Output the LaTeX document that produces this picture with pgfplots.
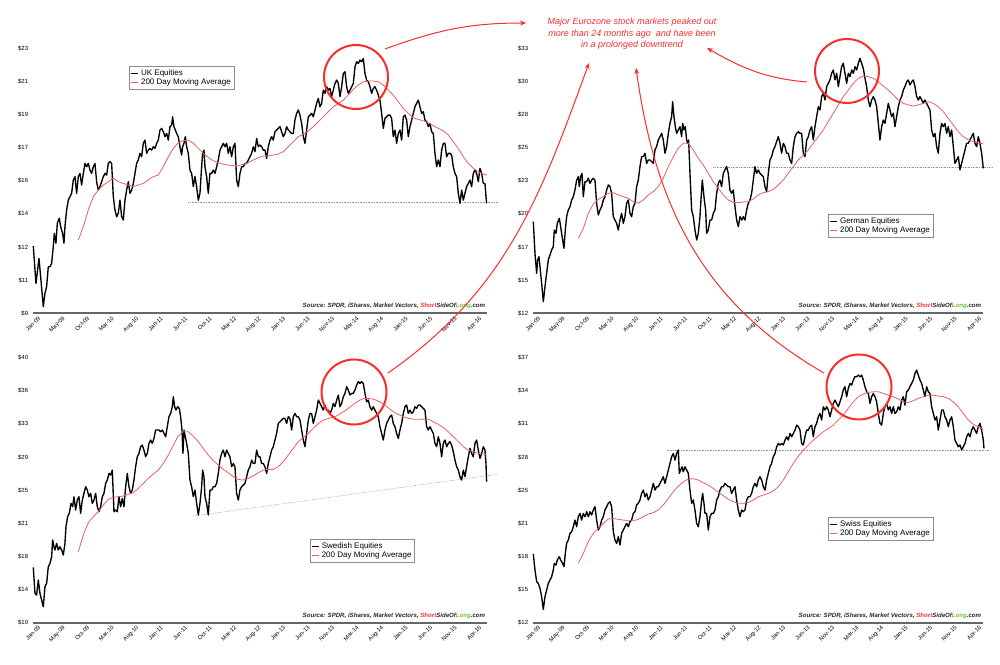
\documentclass[border=0pt]{standalone}
\usepackage{fontspec}
\setmainfont{Liberation Sans}
\usepackage{pgfplots}
\pgfplotsset{compat=1.18}
\usetikzlibrary{arrows.meta}
\definecolor{maRed}{RGB}{236,96,96}
\definecolor{annRed}{RGB}{250,45,45}
\definecolor{srcGreen}{RGB}{110,190,60}
\newcommand{\src}{\fontsize{6.1}{7}\selectfont\bfseries\itshape\color{black!85}Source: SPDR, iShares, Market Vectors, \textcolor{annRed}{Short}SideOf\textcolor{srcGreen}{Long}.com}
\pgfplotsset{
  panel/.style={
    scale only axis, height=265pt, xmin=0,
    axis line style={draw=none}, major tick length=0pt,
    xtick={16,163,310,457,604,751,898,1045,1192,1339,1486,1633,1780,1927,2074,2221,2368,2515,2662},
    xticklabels={Jan-09,May-09,Oct-09,Mar-10,Aug-10,Jan-11,Jun-11,Oct-11,Mar-12,Aug-12,Jan-13,Jun-13,Nov-13,Mar-14,Aug-14,Jan-15,Jun-15,Nov-15,Apr-16},
    xticklabel style={rotate=45,anchor=north east,font=\fontsize{5.8}{6.5}\selectfont,inner sep=0.5pt,yshift=-2.5pt},
    yticklabel style={font=\fontsize{6}{7}\selectfont,inner sep=1pt,xshift=-4pt},
    clip=false,
    legend cell align=left,
    legend style={draw=black!45, line width=0.7pt, fill=white, font=\fontsize{8}{9}\selectfont, inner sep=1.3pt, anchor=north west, row sep=-2pt},
    legend image code/.code={\draw[#1] (0pt,0pt) -- (7pt,0pt);},
  },
  price/.style={black, line width=1.35pt, line join=round},
  ma/.style={maRed, line width=0.8pt},
  dline/.style={black!40, densely dotted, line width=0.6pt, forget plot},
}
\begin{document}
\begin{tikzpicture}
\useasboundingbox (0,0) rectangle (1000pt,664pt);

% UK
\begin{axis}[panel, at={(33.3pt,350.7pt)}, anchor=south west, width=454pt, xmax=2724,
  ymin=9, ymax=23, ytick={9,10.75,12.5,14.25,16,17.75,19.5,21.25,23},
  yticklabels={\$9,\$11,\$12,\$14,\$16,\$17,\$19,\$21,\$23},
  legend style={at={(0.211,0.933)}}]
\addplot[dline] coordinates {(930,14.86)(2790,14.86)};
\addplot[price] coordinates {(0,12.56)(16,10.58)(34,11.90)(44,10.94)(60,9.35)(70,10.06)(80,10.41)(90,11.46)(100,11.46)(110,11.64)(120,12.52)(126,13.22)(136,12.70)(144,13.75)(156,14.02)(164,13.58)(176,13.22)(184,12.70)(190,13.58)(200,14.46)(210,14.98)(220,15.16)(230,15.34)(240,16.04)(250,16.22)(260,15.34)(270,16.22)(280,16.39)(290,15.78)(300,16.39)(310,16.92)(320,16.74)(330,16.92)(340,16.57)(350,16.39)(360,16.74)(370,16.92)(380,15.95)(390,15.51)(400,15.69)(410,15.95)(420,16.22)(430,16.39)(440,16.30)(450,16.92)(460,17.01)(470,16.92)(480,15.16)(490,14.46)(500,14.10)(510,14.28)(520,14.98)(530,14.10)(540,13.93)(550,14.98)(560,15.51)(570,15.95)(580,15.34)(590,15.51)(600,15.86)(610,16.39)(620,16.92)(630,17.10)(640,17.45)(650,17.27)(660,17.98)(670,18.15)(680,17.45)(690,17.62)(700,17.71)(710,17.62)(720,17.80)(730,17.71)(740,17.98)(750,18.15)(760,18.68)(770,18.77)(780,18.59)(790,18.33)(800,18.50)(810,18.15)(820,18.86)(830,18.94)(836,19.38)(844,18.86)(852,18.68)(860,18.50)(870,18.33)(880,17.80)(890,17.36)(896,17.80)(904,17.98)(912,18.33)(920,17.80)(930,17.45)(940,16.57)(950,16.39)(960,15.69)(970,16.22)(980,15.69)(990,14.98)(1000,15.34)(1010,16.74)(1016,17.45)(1024,17.62)(1030,16.74)(1040,16.22)(1050,15.34)(1060,16.39)(1070,16.39)(1080,16.57)(1090,16.39)(1100,16.74)(1110,17.10)(1120,17.62)(1130,17.80)(1140,17.98)(1150,17.80)(1160,17.98)(1170,17.45)(1180,17.80)(1190,17.27)(1200,17.80)(1210,17.98)(1220,16.04)(1230,15.69)(1240,16.39)(1250,16.74)(1260,16.74)(1270,16.92)(1280,16.92)(1290,17.10)(1300,17.27)(1310,17.45)(1320,17.80)(1330,17.54)(1340,18.24)(1350,17.80)(1360,17.89)(1370,17.80)(1380,17.62)(1390,17.62)(1400,17.18)(1410,17.80)(1420,18.15)(1430,18.33)(1440,18.15)(1450,18.59)(1460,18.68)(1470,18.77)(1480,18.86)(1490,18.59)(1500,18.33)(1510,18.50)(1520,18.86)(1530,18.68)(1540,18.59)(1550,18.50)(1560,18.50)(1570,19.21)(1580,19.56)(1590,19.74)(1600,19.47)(1610,19.03)(1620,18.33)(1630,17.98)(1640,18.68)(1650,19.38)(1660,19.47)(1670,19.56)(1680,19.38)(1690,19.74)(1700,20.09)(1710,20.35)(1720,19.91)(1730,20.09)(1740,20.79)(1750,20.62)(1760,20.97)(1770,20.79)(1780,20.88)(1790,20.44)(1800,20.79)(1810,21.14)(1820,21.32)(1830,21.14)(1840,20.44)(1850,20.97)(1860,21.67)(1870,21.76)(1880,20.97)(1890,20.62)(1900,20.79)(1910,20.97)(1920,21.14)(1930,22.02)(1940,22.29)(1950,22.20)(1960,22.38)(1970,22.29)(1980,22.46)(1990,21.67)(2000,21.32)(2010,21.23)(2020,20.97)(2030,20.62)(2040,20.88)(2050,20.97)(2060,20.79)(2070,20.53)(2080,20.26)(2090,19.56)(2100,18.77)(2110,19.30)(2120,19.38)(2130,19.47)(2140,19.47)(2150,19.30)(2160,18.33)(2170,18.68)(2180,17.98)(2190,18.50)(2200,18.68)(2210,18.15)(2220,19.38)(2230,19.47)(2240,19.21)(2250,18.33)(2260,18.86)(2270,19.21)(2280,19.56)(2290,19.91)(2300,20.09)(2310,20.26)(2320,19.91)(2330,19.56)(2340,19.65)(2350,19.21)(2360,19.12)(2370,18.86)(2380,19.03)(2390,18.59)(2400,18.50)(2410,17.45)(2420,16.74)(2430,17.10)(2440,16.74)(2450,17.62)(2460,17.98)(2470,17.98)(2480,17.27)(2490,17.45)(2500,17.45)(2510,17.36)(2520,16.74)(2530,16.39)(2540,16.22)(2550,15.34)(2560,14.81)(2570,15.51)(2580,14.98)(2590,15.34)(2600,15.69)(2610,15.86)(2620,16.04)(2630,15.69)(2640,16.39)(2650,16.57)(2660,16.39)(2670,15.95)(2680,16.66)(2690,16.39)(2700,15.86)(2710,15.86)(2716,15.16)(2720,14.81)};
\addlegendentry{UK Equities}
\addplot[ma] coordinates {(270,12.87)(300,13.58)(330,14.46)(360,15.16)(390,15.51)(420,15.78)(450,15.95)(480,16.13)(510,15.95)(540,15.86)(570,15.78)(600,15.69)(630,15.78)(660,15.86)(690,16.04)(720,16.22)(750,16.30)(780,16.74)(810,17.27)(840,17.71)(870,18.01)(900,18.12)(930,18.15)(960,17.98)(990,17.71)(1020,17.45)(1050,17.24)(1080,17.06)(1110,16.96)(1140,16.88)(1170,16.83)(1200,16.80)(1230,16.80)(1260,16.87)(1290,16.96)(1320,17.10)(1350,17.22)(1380,17.31)(1410,17.32)(1440,17.36)(1470,17.41)(1500,17.54)(1530,17.80)(1560,18.06)(1590,18.33)(1620,18.47)(1650,18.63)(1680,18.86)(1710,19.12)(1740,19.38)(1770,19.65)(1800,19.91)(1830,20.09)(1860,20.26)(1890,20.53)(1920,20.83)(1950,21.06)(1980,21.23)(2010,21.27)(2040,21.27)(2070,21.23)(2100,21.06)(2130,20.79)(2160,20.53)(2190,20.18)(2220,19.82)(2250,19.56)(2280,19.33)(2310,19.24)(2340,19.17)(2370,19.07)(2400,18.91)(2430,18.77)(2460,18.64)(2490,18.42)(2520,18.06)(2550,17.71)(2580,17.27)(2610,16.92)(2640,16.66)(2670,16.48)(2700,16.36)(2720,16.30)};
\addlegendentry{200 Day Moving Average}
\draw[black!60, line width=2pt] (rel axis cs:0,0) -- (rel axis cs:1,0);
\node[anchor=south east, inner sep=0pt, xshift=-2pt, yshift=4pt] at (rel axis cs:1,0) {\src};
\end{axis}

% German
\begin{axis}[panel, at={(533.3pt,350.7pt)}, anchor=south west, width=450pt, xmax=2700,
  ymin=12, ymax=33, ytick={12,14.625,17.25,19.875,22.5,25.125,27.75,30.375,33},
  yticklabels={\$12,\$15,\$17,\$20,\$23,\$25,\$28,\$30,\$33},
  legend style={at={(0.655,0.375)}}]
\addplot[dline] coordinates {(1080,23.54)(2756,23.54)};
\addplot[price] coordinates {(0,19.26)(10,16.75)(20,15.17)(26,16.23)(34,16.49)(40,15.70)(50,14.38)(60,12.92)(70,14.11)(80,15.17)(90,16.23)(100,16.62)(110,17.02)(120,17.28)(126,18.60)(136,18.34)(144,19.13)(156,19.53)(164,18.87)(176,17.81)(184,17.15)(192,18.60)(200,19.66)(210,20.19)(220,20.45)(230,20.98)(240,21.24)(250,21.77)(260,22.56)(270,22.83)(276,22.04)(284,22.83)(292,23.09)(300,21.24)(310,22.43)(320,22.43)(330,22.70)(340,22.30)(350,22.56)(360,22.70)(370,22.56)(380,20.72)(390,19.79)(400,20.19)(410,20.45)(420,20.98)(430,21.24)(440,21.77)(450,22.17)(460,22.04)(470,21.51)(480,19.66)(490,19.39)(500,19.13)(510,18.60)(520,19.39)(530,19.92)(540,19.13)(550,19.66)(560,20.72)(570,20.98)(580,19.92)(590,19.66)(600,20.45)(610,20.72)(620,22.04)(630,22.56)(640,23.62)(650,24.41)(660,24.41)(670,24.68)(680,23.88)(690,24.15)(700,24.15)(710,24.02)(720,23.88)(730,24.94)(740,25.21)(750,25.73)(760,26.00)(770,26.26)(780,25.73)(790,24.68)(800,25.21)(810,26.26)(820,27.05)(830,27.58)(836,28.77)(844,27.58)(852,26.79)(860,26.26)(870,26.53)(880,26.79)(890,26.00)(896,27.05)(904,26.53)(912,26.79)(920,25.73)(926,25.47)(932,25.73)(940,23.09)(950,20.19)(960,19.66)(970,18.60)(980,17.81)(990,18.34)(1000,19.66)(1006,20.98)(1014,22.56)(1020,21.77)(1026,20.98)(1034,20.19)(1040,18.34)(1050,18.60)(1060,19.39)(1070,19.39)(1080,19.92)(1090,20.19)(1100,21.51)(1110,22.30)(1120,22.56)(1130,22.04)(1140,23.09)(1150,23.36)(1160,23.62)(1170,23.09)(1180,21.77)(1190,21.51)(1200,21.77)(1210,20.45)(1220,19.39)(1230,18.87)(1240,19.66)(1250,19.39)(1260,19.66)(1270,19.39)(1280,20.19)(1290,20.72)(1300,20.98)(1310,21.51)(1320,22.56)(1330,23.62)(1340,23.09)(1350,23.36)(1360,23.09)(1370,22.96)(1380,22.83)(1390,22.04)(1400,21.64)(1410,23.09)(1420,24.15)(1430,24.41)(1440,24.94)(1450,25.21)(1460,25.60)(1470,26.00)(1480,25.47)(1490,24.68)(1500,25.47)(1510,25.21)(1520,24.68)(1530,24.68)(1540,24.15)(1550,23.88)(1560,25.21)(1570,26.00)(1580,26.26)(1590,26.39)(1600,26.26)(1610,26.26)(1620,24.68)(1630,24.41)(1640,25.73)(1650,26.00)(1660,26.53)(1670,26.79)(1680,25.73)(1690,26.79)(1700,27.58)(1710,28.37)(1720,28.11)(1730,29.17)(1740,29.43)(1750,28.90)(1760,29.96)(1770,30.22)(1780,30.49)(1790,31.02)(1800,31.28)(1810,30.49)(1820,31.02)(1830,29.96)(1840,30.75)(1850,31.54)(1860,31.81)(1870,31.02)(1880,30.22)(1890,31.02)(1900,30.75)(1910,31.28)(1920,31.02)(1930,31.54)(1940,31.28)(1950,31.81)(1960,32.20)(1970,31.81)(1980,31.41)(1990,30.62)(2000,29.96)(2010,28.90)(2020,28.37)(2030,28.90)(2040,29.17)(2050,28.90)(2060,28.37)(2070,27.05)(2080,25.73)(2090,26.79)(2100,27.32)(2110,27.05)(2120,27.85)(2130,28.64)(2140,28.11)(2150,27.58)(2160,27.85)(2170,26.79)(2180,27.58)(2190,28.37)(2200,28.90)(2210,29.17)(2220,29.69)(2230,29.96)(2240,30.35)(2250,30.49)(2260,30.09)(2270,30.35)(2280,30.49)(2290,29.96)(2300,29.17)(2310,28.90)(2320,29.17)(2330,28.90)(2340,28.64)(2350,28.90)(2360,28.64)(2370,28.37)(2380,28.11)(2390,26.53)(2400,26.00)(2410,26.26)(2420,25.21)(2430,24.68)(2440,26.26)(2450,27.05)(2460,26.79)(2470,27.05)(2480,26.26)(2490,26.79)(2500,26.00)(2510,26.53)(2520,25.21)(2530,23.88)(2540,24.15)(2550,24.41)(2560,23.36)(2570,23.88)(2580,24.41)(2590,24.94)(2600,25.47)(2610,25.47)(2620,25.73)(2630,26.00)(2640,26.26)(2650,25.47)(2660,25.21)(2670,26.00)(2680,25.47)(2690,24.68)(2700,23.49)};
\addlegendentry{German Equities}
\addplot[ma] coordinates {(270,17.94)(300,18.73)(330,19.92)(360,20.66)(390,21.03)(420,21.24)(450,21.51)(480,21.56)(510,21.38)(540,21.24)(570,21.11)(600,20.85)(630,20.72)(660,20.98)(690,21.38)(720,21.64)(750,22.04)(780,22.70)(810,23.62)(840,24.41)(870,25.07)(900,25.47)(930,25.47)(960,24.94)(990,24.28)(1020,23.75)(1050,23.09)(1080,22.43)(1110,21.90)(1140,21.38)(1170,20.98)(1200,20.79)(1230,20.77)(1260,20.82)(1290,20.85)(1320,21.06)(1350,21.38)(1380,21.56)(1410,21.64)(1440,21.82)(1470,22.17)(1500,22.56)(1530,23.09)(1560,23.62)(1590,24.15)(1620,24.54)(1650,24.94)(1680,25.47)(1710,26.00)(1740,26.53)(1770,27.19)(1800,27.85)(1830,28.51)(1860,29.17)(1890,29.69)(1920,30.22)(1950,30.62)(1980,30.80)(2010,30.75)(2040,30.62)(2070,30.35)(2100,30.01)(2130,29.69)(2160,29.30)(2190,28.90)(2220,28.64)(2250,28.51)(2280,28.43)(2310,28.51)(2340,28.64)(2370,28.77)(2400,28.64)(2430,28.37)(2460,27.98)(2490,27.45)(2520,26.92)(2550,26.39)(2580,26.00)(2610,25.73)(2640,25.60)(2670,25.52)(2700,25.42)};
\addlegendentry{200 Day Moving Average}
\draw[black!60, line width=2pt] (rel axis cs:0,0) -- (rel axis cs:1,0);
\node[anchor=south east, inner sep=0pt, xshift=-2pt, yshift=4pt] at (rel axis cs:1,0) {\src};
\end{axis}

% Swedish
\begin{axis}[panel, at={(33.3pt,41.3pt)}, anchor=south west, width=454pt, xmax=2724,
  ymin=10, ymax=40, ytick={10,13.75,17.5,21.25,25,28.75,32.5,36.25,40},
  yticklabels={\$10,\$14,\$18,\$21,\$25,\$29,\$33,\$36,\$40},
  legend style={at={(0.609,0.316)}}]
\addplot[dline] coordinates {(960,22.07)(2780,26.79)};
\addplot[price] coordinates {(0,16.26)(10,13.32)(20,13.13)(30,14.83)(40,13.32)(50,12.57)(60,11.81)(70,14.07)(80,14.45)(90,16.34)(100,16.72)(110,17.47)(116,19.36)(124,18.60)(130,18.23)(140,18.98)(150,18.23)(160,18.60)(170,18.23)(180,17.66)(190,18.98)(196,20.87)(206,22.00)(216,22.38)(226,23.51)(236,23.13)(244,24.26)(254,22.75)(264,23.88)(274,24.26)(284,22.38)(294,23.88)(304,24.64)(314,25.39)(324,25.02)(334,24.26)(344,24.64)(354,23.51)(364,23.88)(374,24.64)(384,23.13)(394,22.56)(404,23.13)(414,24.26)(424,24.64)(434,25.77)(444,26.15)(454,26.90)(464,26.71)(474,27.28)(484,22.56)(494,22.75)(504,22.56)(514,24.26)(524,23.13)(534,24.07)(544,23.13)(554,25.39)(564,26.90)(574,25.39)(584,24.64)(594,25.02)(604,26.15)(614,27.66)(624,28.79)(634,29.17)(644,29.92)(654,30.11)(664,29.54)(674,28.79)(684,29.17)(694,30.30)(704,30.68)(714,30.30)(724,30.86)(734,31.81)(744,31.81)(754,31.81)(764,31.62)(774,31.81)(784,31.43)(794,31.05)(804,32.19)(814,33.32)(824,33.69)(834,34.45)(840,35.58)(848,34.45)(856,34.07)(866,34.45)(876,34.26)(884,33.32)(892,31.81)(898,29.17)(904,31.81)(912,31.05)(920,30.30)(930,29.17)(940,26.15)(950,25.39)(960,24.26)(970,25.02)(980,23.51)(990,22.19)(1000,23.51)(1010,25.39)(1016,27.28)(1024,26.53)(1030,24.26)(1040,23.51)(1050,22.19)(1060,25.02)(1070,25.02)(1080,25.39)(1090,25.39)(1100,25.77)(1110,26.90)(1120,28.41)(1130,29.17)(1140,29.54)(1150,28.79)(1160,29.54)(1170,29.17)(1180,28.79)(1190,27.66)(1200,28.03)(1210,27.66)(1220,24.64)(1230,23.88)(1240,25.02)(1250,25.39)(1260,25.58)(1270,25.77)(1280,26.53)(1290,27.28)(1300,27.66)(1310,28.41)(1320,28.03)(1330,28.03)(1340,29.54)(1350,28.79)(1360,28.79)(1370,28.03)(1380,28.03)(1390,27.66)(1400,26.90)(1410,28.03)(1420,28.79)(1430,29.54)(1440,29.92)(1450,30.68)(1460,31.43)(1470,32.56)(1480,32.75)(1490,32.94)(1500,33.13)(1510,33.13)(1520,32.56)(1530,33.32)(1540,33.13)(1550,31.81)(1560,33.32)(1570,33.69)(1580,33.32)(1590,33.32)(1600,32.94)(1610,31.81)(1620,30.68)(1630,29.92)(1640,31.43)(1650,32.94)(1660,33.69)(1670,33.69)(1680,32.56)(1690,33.32)(1700,34.07)(1710,35.20)(1720,34.83)(1730,34.45)(1740,34.07)(1750,34.64)(1760,34.07)(1770,34.07)(1780,33.69)(1790,34.07)(1800,34.83)(1810,34.45)(1820,35.20)(1830,35.77)(1840,34.45)(1850,34.83)(1860,35.58)(1870,35.96)(1880,36.71)(1890,36.34)(1900,35.77)(1910,35.96)(1920,35.96)(1930,36.34)(1940,36.90)(1950,37.28)(1960,37.09)(1970,37.28)(1980,37.09)(1990,35.96)(2000,35.01)(2010,35.20)(2020,34.45)(2030,34.07)(2040,34.45)(2050,34.07)(2060,33.69)(2070,33.32)(2080,32.19)(2090,31.43)(2100,30.68)(2110,31.81)(2120,32.56)(2130,32.94)(2140,33.32)(2150,33.51)(2160,32.56)(2170,32.19)(2180,31.43)(2190,30.86)(2200,31.81)(2210,32.56)(2220,33.69)(2230,34.45)(2240,34.64)(2250,33.69)(2260,34.07)(2270,33.69)(2280,33.88)(2290,34.45)(2300,34.26)(2310,34.64)(2320,34.64)(2330,34.45)(2340,34.26)(2350,34.07)(2360,32.19)(2370,31.81)(2380,32.19)(2390,31.81)(2400,31.43)(2410,30.30)(2420,29.92)(2430,31.05)(2440,30.30)(2450,28.79)(2460,30.30)(2470,30.68)(2480,29.92)(2490,30.30)(2500,30.49)(2510,30.11)(2520,29.36)(2530,28.41)(2540,27.66)(2550,27.28)(2560,26.53)(2570,26.15)(2580,27.28)(2590,26.53)(2600,27.66)(2610,28.79)(2620,29.73)(2630,29.17)(2640,28.79)(2650,30.30)(2660,30.68)(2670,29.54)(2680,28.60)(2690,29.17)(2700,29.92)(2710,29.54)(2716,28.03)(2720,25.96)};
\addlegendentry{Swedish Equities}
\addplot[ma] coordinates {(270,18.04)(300,19.92)(330,21.32)(360,22.00)(390,22.56)(420,23.32)(450,23.96)(480,24.19)(510,24.26)(540,24.34)(570,24.53)(600,24.71)(630,25.21)(660,25.77)(690,26.34)(720,26.83)(750,27.28)(780,28.03)(810,28.98)(840,30.11)(870,31.13)(900,31.62)(930,31.62)(960,31.13)(990,30.49)(1020,29.73)(1050,28.98)(1080,28.34)(1110,27.85)(1140,27.36)(1170,26.98)(1200,26.53)(1230,26.22)(1260,26.15)(1290,26.34)(1320,26.64)(1350,26.98)(1380,27.28)(1410,27.36)(1440,27.36)(1470,27.66)(1500,28.22)(1530,28.98)(1560,29.73)(1590,30.49)(1620,30.98)(1650,31.43)(1680,32.00)(1710,32.56)(1740,32.94)(1770,33.13)(1800,33.24)(1830,33.51)(1860,33.88)(1890,34.26)(1920,34.71)(1950,35.09)(1980,35.39)(2010,35.39)(2040,35.32)(2070,35.09)(2100,34.75)(2130,34.34)(2160,33.88)(2190,33.58)(2220,33.32)(2250,33.13)(2280,33.05)(2310,33.02)(2340,33.05)(2370,33.02)(2400,32.75)(2430,32.45)(2460,32.11)(2490,31.62)(2520,31.05)(2550,30.49)(2580,29.92)(2610,29.54)(2640,29.36)(2670,29.17)(2700,29.09)(2720,28.98)};
\addlegendentry{200 Day Moving Average}
\draw[black!60, line width=2pt] (rel axis cs:0,0) -- (rel axis cs:1,0);
\node[anchor=south east, inner sep=0pt, xshift=-2pt, yshift=4pt] at (rel axis cs:1,0) {\src};
\end{axis}

% Swiss
\begin{axis}[panel, at={(533.3pt,41.3pt)}, anchor=south west, width=450pt, xmax=2700,
  ymin=12, ymax=37, ytick={12,15.125,18.25,21.375,24.5,27.625,30.75,33.875,37},
  yticklabels={\$12,\$15,\$18,\$21,\$25,\$28,\$31,\$34,\$37},
  legend style={at={(0.655,0.399)}}]
\addplot[dline] coordinates {(800,28.29)(2736,28.29)};
\addplot[price] coordinates {(0,18.48)(10,16.97)(20,15.87)(30,15.71)(40,15.24)(50,14.45)(60,13.26)(70,14.45)(80,15.08)(90,15.71)(100,16.02)(110,16.34)(120,16.97)(126,17.60)(136,17.44)(144,17.91)(156,18.23)(164,17.91)(176,17.60)(184,17.28)(192,18.54)(200,19.48)(210,19.80)(220,20.43)(230,20.58)(240,21.05)(250,21.68)(260,21.05)(270,22.00)(280,22.31)(290,21.68)(300,22.31)(310,22.00)(320,22.47)(330,22.00)(340,22.47)(350,22.16)(360,22.63)(370,22.94)(380,21.68)(390,20.74)(400,21.05)(410,21.68)(420,22.00)(430,22.63)(440,22.94)(450,23.26)(460,23.41)(470,22.94)(480,20.58)(490,19.80)(500,19.48)(510,20.11)(520,19.33)(530,20.43)(540,20.74)(550,21.05)(560,21.37)(570,21.05)(580,21.53)(590,21.68)(600,22.31)(610,22.47)(620,23.10)(630,23.26)(640,23.57)(650,24.20)(660,24.51)(670,23.88)(680,24.20)(690,23.57)(700,23.88)(710,24.51)(720,25.14)(730,24.51)(740,24.83)(750,24.83)(760,25.14)(770,25.46)(780,25.77)(790,25.14)(800,25.77)(810,26.40)(820,27.03)(830,27.66)(840,27.97)(850,27.34)(860,27.97)(870,28.29)(876,26.09)(884,26.40)(892,26.71)(900,26.24)(910,26.71)(920,26.40)(930,26.09)(940,24.51)(950,23.26)(960,23.57)(970,22.63)(980,21.37)(990,21.05)(1000,22.00)(1010,23.57)(1016,24.20)(1024,23.26)(1030,22.31)(1040,22.31)(1050,20.74)(1060,22.00)(1070,22.31)(1080,22.31)(1090,22.63)(1100,23.57)(1110,23.88)(1120,24.51)(1130,24.83)(1140,24.83)(1150,25.14)(1160,24.98)(1170,24.83)(1180,24.83)(1190,24.20)(1200,24.51)(1210,24.83)(1220,23.57)(1230,22.63)(1240,22.00)(1250,22.63)(1260,22.47)(1270,22.63)(1280,23.57)(1290,23.88)(1300,23.88)(1310,24.20)(1320,24.83)(1330,25.14)(1340,24.83)(1350,25.46)(1360,25.77)(1370,25.46)(1380,24.83)(1390,24.51)(1400,25.46)(1410,26.09)(1420,26.71)(1430,27.03)(1440,27.66)(1450,27.97)(1460,28.60)(1470,28.91)(1480,28.76)(1490,28.91)(1500,28.76)(1510,29.23)(1520,29.54)(1530,29.23)(1540,29.86)(1550,29.54)(1560,29.86)(1570,30.17)(1580,30.64)(1590,30.49)(1600,30.17)(1610,28.91)(1620,28.76)(1630,29.54)(1640,30.17)(1650,30.17)(1660,30.49)(1670,30.64)(1680,29.54)(1690,30.49)(1700,30.80)(1710,31.43)(1720,31.74)(1730,31.12)(1740,32.37)(1750,32.06)(1760,32.37)(1770,32.06)(1780,31.43)(1790,32.06)(1800,32.69)(1810,33.00)(1820,32.69)(1830,32.37)(1840,32.84)(1850,33.32)(1860,33.95)(1870,34.26)(1880,33.32)(1890,34.10)(1900,34.57)(1910,34.42)(1920,34.89)(1930,35.20)(1940,35.20)(1950,35.36)(1960,35.20)(1970,35.36)(1980,34.89)(1990,34.26)(2000,33.79)(2010,33.63)(2020,32.69)(2030,33.32)(2040,33.63)(2050,33.32)(2060,32.84)(2070,31.74)(2080,30.80)(2090,30.64)(2100,31.74)(2110,32.37)(2120,32.69)(2130,32.06)(2140,32.37)(2150,31.74)(2160,32.37)(2170,31.74)(2180,31.90)(2190,32.37)(2200,32.06)(2210,33.00)(2220,33.32)(2230,32.53)(2240,33.79)(2250,33.95)(2260,34.26)(2270,34.57)(2280,34.89)(2290,35.52)(2300,35.83)(2310,35.36)(2320,34.89)(2330,34.57)(2340,33.95)(2350,33.32)(2360,34.26)(2370,33.79)(2380,33.63)(2390,32.37)(2400,31.74)(2410,31.12)(2420,31.43)(2430,30.17)(2440,31.12)(2450,32.06)(2460,32.06)(2470,31.43)(2480,31.12)(2490,30.49)(2500,31.12)(2510,31.43)(2520,30.49)(2530,29.23)(2540,28.91)(2550,28.60)(2560,28.76)(2570,28.29)(2580,28.60)(2590,28.91)(2600,29.54)(2610,29.86)(2620,29.54)(2630,30.17)(2640,30.49)(2650,30.17)(2660,29.86)(2670,30.49)(2680,30.80)(2690,30.17)(2700,29.23)(2704,28.44)};
\addlegendentry{Swiss Equities}
\addplot[ma] coordinates {(270,17.60)(300,18.54)(330,19.64)(360,20.43)(390,20.90)(420,21.37)(450,21.78)(480,21.84)(510,21.75)(540,21.68)(570,21.62)(600,21.62)(630,21.75)(660,22.00)(690,22.25)(720,22.38)(750,22.63)(780,23.10)(810,23.73)(840,24.36)(870,24.89)(900,25.30)(930,25.55)(960,25.58)(990,25.46)(1020,25.20)(1050,24.98)(1080,24.67)(1110,24.29)(1140,23.98)(1170,23.66)(1200,23.41)(1230,23.26)(1260,23.26)(1290,23.35)(1320,23.57)(1350,23.88)(1380,24.04)(1410,24.20)(1440,24.42)(1470,24.83)(1500,25.46)(1530,26.24)(1560,27.03)(1590,27.72)(1620,28.29)(1650,28.76)(1680,29.23)(1710,29.61)(1740,30.02)(1770,30.33)(1800,30.64)(1830,31.12)(1860,31.59)(1890,32.22)(1920,32.84)(1950,33.32)(1980,33.57)(2010,33.73)(2040,33.79)(2070,33.79)(2100,33.63)(2130,33.47)(2160,33.32)(2190,33.10)(2220,32.84)(2250,32.78)(2280,32.94)(2310,33.16)(2340,33.32)(2370,33.47)(2400,33.47)(2430,33.38)(2460,33.32)(2490,33.16)(2520,32.84)(2550,32.37)(2580,31.74)(2610,31.12)(2640,30.71)(2670,30.49)(2700,30.24)};
\addlegendentry{200 Day Moving Average}
\draw[black!60, line width=2pt] (rel axis cs:0,0) -- (rel axis cs:1,0);
\node[anchor=south east, inner sep=0pt, xshift=-2pt, yshift=4pt] at (rel axis cs:1,0) {\src};
\end{axis}

% annotations
\begin{scope}[x=1pt,y=1pt, annRed]
\draw[line width=2pt] (356,587) circle (32);
\draw[line width=2pt] (847,593) circle (32);
\draw[line width=2pt] (354,272) circle (32.5);
\draw[line width=2pt] (859,277) circle (32.5);
\draw[line width=1pt, -{Stealth[length=6pt,width=5pt]}] (385,615) to[out=20,in=180] (526,641);
\draw[line width=1pt, -{Stealth[length=6pt,width=5pt]}] (807,582) to[out=175,in=-30] (707,616);
\draw[line width=1pt, -{Stealth[length=6pt,width=5pt]}] (388,291) to[out=35,in=250] (589,601);
\draw[line width=1pt, -{Stealth[length=6pt,width=5pt]}] (824,291) to[out=150,in=-82] (636,596);
\node[align=center, font=\fontsize{9}{11.5}\selectfont\itshape, text=annRed] at (632,630) {Major Eurozone stock markets peaked out\\more than 24 months ago\ \ and have been\\in a prolonged downtrend};
\end{scope}
\end{tikzpicture}
\end{document}
